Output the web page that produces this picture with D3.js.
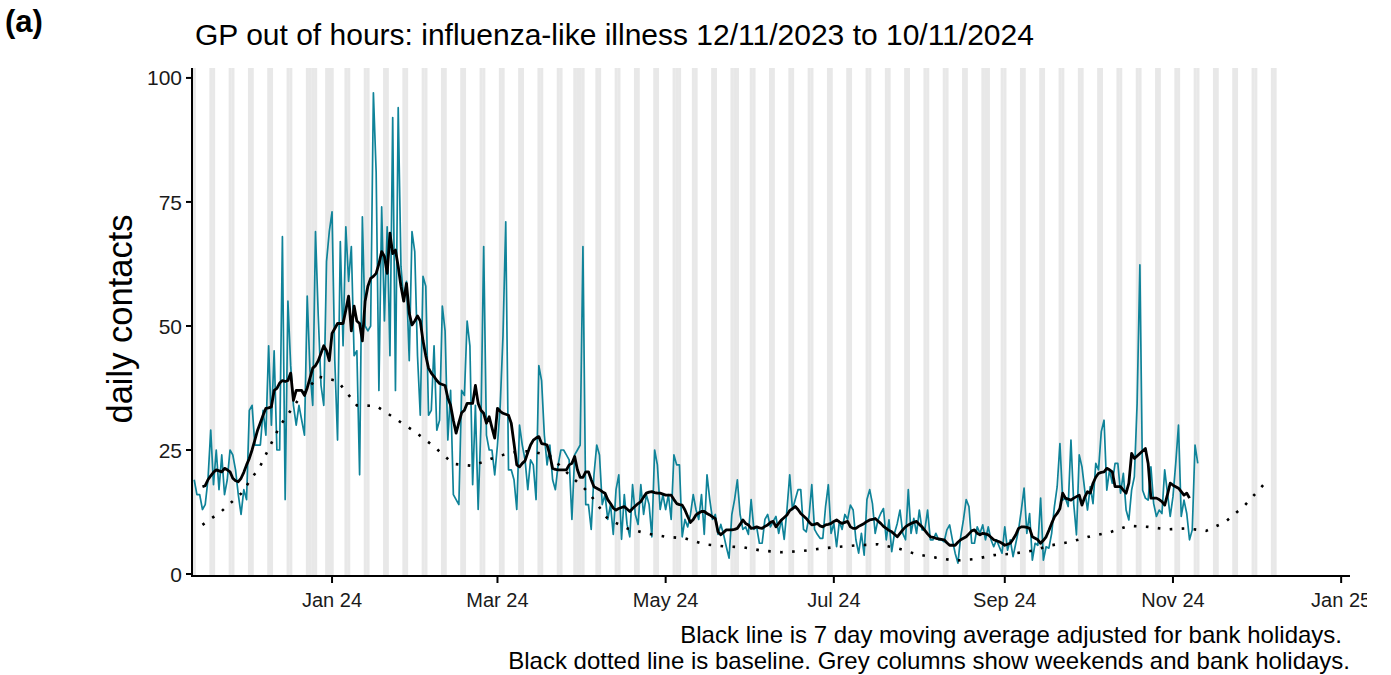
<!DOCTYPE html>
<html><head><meta charset="utf-8">
<script src="https://cdn.jsdelivr.net/npm/d3@7"></script>
<style>
body{margin:0;background:#fff}
svg text{font-family:"Liberation Sans",Arial,Helvetica,sans-serif}
</style>
</head><body>
<svg id="chart" width="1391" height="675"></svg>
<script>
// ---------------- DATA ----------------
const seriesStart = "2023-11-12"; // first daily value
const dailyContacts = [
19,16,16,13,14,19,29,18,25,17,24,16,19,25,24,21,16,12,17,15,
33,34,26,26,26,33,28,46,30,45,25,25,68,15,55,42,34,30,34,31,
28,56,41,34,69,52,38,34,63,69,73,43,27,67,46,70,59,66,44,45,
20,72,50,49,50,97,81,37,74,51,70,44,92,37,94,62,55,59,43,69,
65,44,32,60,58,32,33,46,29,31,54,49,27,37,16,15,14,37,36,51,
46,18,34,13,30,66,28,25,25,20,26,34,48,71,21,21,19,13,30,26,
23,17,23,22,15,42,39,28,22,26,19,17,22,25,25,24,23,11,24,25,
26,66,14,14,9,20,26,24,14,16,11,14,8,17,20,7,16,10,7.5,18,
12,10,18,12,16,14,7.5,25,22,13,16,13,16,11,24,22,22,7.5,11,9.5,
12,16,13,11,16,8,20,15,11,12,8,10,8,5.5,3.2,12,15,19,12,9,
9.5,8,15,9,9.5,6.2,6.2,11,12,9.5,10.6,11.6,8.2,11,7,13,20,13,15,17,
17,9,8.5,11.6,18,9,8,7.2,7.2,13.6,18,8.2,10.2,5.5,10.6,9,12,11,13.9,12.9,
6.9,4.2,8.2,3.8,15,17,14.2,8.2,10.9,12.2,13.2,6.9,10.9,4.5,8.2,10.2,12.9,8.2,6.9,17,
8.2,11.2,8.2,12.9,8.9,8.9,12.9,6.9,6.9,8.2,6.9,6.9,6.5,8.9,9.9,6.9,4.2,2.2,7.5,10.9,
15,13.6,6.2,6.2,9.5,8.2,9.9,6.9,9.5,6.9,5.5,6.9,5.5,4.2,9.5,4.8,6.9,3.5,6.2,8.9,
12.9,17.3,8.2,12.2,2.8,6.2,5.8,15.3,2.8,5.5,5.2,8.2,13.6,17.6,26.3,14.9,15.3,13.6,27,14.2,
7.9,24,21.6,16.9,12.9,17.6,14.2,22.3,21,28.7,31,16.9,21,18.3,22.3,22.3,16.3,20.3,12.9,10.9,
16.9,19.6,34.4,62.3,16.9,15.3,14.9,21.6,14.2,11.6,12.9,12.2,21,16.3,11.6,15.6,22.3,30,11.6,14.9,
12.2,6.9,8.9,26,22.3
];

const movingAverageStart = "2023-11-15"; // 7 day moving average (centred)
const movingAverage = [
17.6,17.8,19,19.8,20.5,21,20.8,20.6,21.3,21,20.6,19.3,18.8,18.6,19.3,20.5,22,23.3,25,27,
29,30.5,32,33.4,33.5,33.7,37,37.4,38.5,39,38.8,39,40.5,35,37,37,37,36,37.5,39.5,
41.5,42,43,44.5,46,45,43,48.5,49.5,50.5,50.5,50.5,53.2,56,49,54,51,50.5,47,55,
58,59.6,60,60.6,62.5,65,64,60.6,68.7,64.6,65.3,62,58,55,58.6,52.6,50.2,51,52,51,
47,44,41.5,40.5,39.8,39,38.4,38.2,38,35.5,34,31,28.4,30.5,32.5,33,34.4,34.4,34.4,38,
34.4,33,32.4,30.4,31.7,29.5,27.4,33.4,32.8,32.4,32.2,32,30.4,26.3,22,21.6,22.3,22.8,24.5,26,
27,27.4,27.7,26.3,26.2,26,24,21.3,21.1,21,21,21,21,22,22.3,23.7,21,19.5,19.5,20.6,
20.6,19,17.6,17.3,17,16.6,16.3,15,14.2,13.3,12.9,13.2,13.4,13.6,13.1,12.6,13.2,13.7,14.2,14.6,
15.5,16.3,16.5,16.6,16.4,16.3,16.3,16.1,15.9,15.9,15.9,15,14.2,14,13.9,12.9,11.6,10.4,11,11.9,
12.3,12.6,12.6,12.2,11.9,11.5,11.2,8.5,7.9,8.4,8.9,8.9,8.9,9,9.2,10,10.9,10.2,9.9,9.2,
9.3,9.5,9.3,9.2,9.6,9.9,10.4,10.6,9.5,10.2,10.9,11.4,11.9,12.8,13.2,13.6,13,12.2,11.7,11.2,
10.5,9.9,10,10.2,9.7,9.5,9.9,10,10.2,10.6,10.9,10.5,10.2,10.4,10.6,9.5,9.2,9.2,9.6,9.9,
10.2,10.6,10.9,11,11.2,10.7,10.2,9.6,9.2,8.8,8.5,8,7.5,8.2,8.9,9.5,9.9,10.2,10.4,10.6,
10,9.5,8.8,8.1,7.5,7.4,7.2,7.1,7,6.9,6.3,5.8,5.8,5.8,6.4,6.9,7.2,7.5,8.1,8.7,
8.9,8.2,7.9,8.2,8.1,7.9,7.4,6.9,6.7,6.5,6.2,5.8,6,6.2,7,7.9,9.2,9.5,9.5,9.4,
9.2,7.5,7.2,6.9,6.2,6.8,7.5,8.8,10.2,11.5,12.2,13.2,16.3,15.3,15.1,14.9,15.3,15.6,15.9,13.9,
15.5,16.6,16.3,18.3,19.5,20.3,20.5,20.6,21.3,21,20.6,17.6,17.6,17.6,16.9,16.3,18.3,24.3,23.3,23.8,
24.3,24.8,25.3,22.3,15.3,15.3,15.3,15,14.6,13.9,16,18.3,17.9,17.6,17.3,16.6,15.9,16.3,15.3
];

const baselineStart = "2023-11-15"; // weekly baseline points
const baseline = [
9.9,12.7,16.2,21.8,29.8,35.3,39.8,38.9,34.0,33.9,31.3,28.7,25.7,22.2,21.8,23.3,24.5,24.8,23.8,20.0,
16.5,11.1,9.2,8.2,7.5,7.2,6.0,5.6,5.4,4.7,4.4,4.6,5.1,5.5,5.8,6.0,5.2,4.0,3.3,2.7,
3.0,3.8,4.1,4.7,5.8,6.5,7.6,8.4,9.7,9.5,9.0,9.2,8.7,10.5,13.8,18.1
];

const bankHolidays = ["2023-12-25","2023-12-26","2024-01-01","2024-03-29","2024-04-01","2024-05-06","2024-05-27","2024-08-26"];
const columnsFrom = "2023-11-12", columnsTo = "2024-12-08";

const xTickDates = ["2024-01-01","2024-03-01","2024-05-01","2024-07-01","2024-09-01","2024-11-01","2025-01-01"];
const yTickValues = [0,25,50,75,100];

const titleText = "GP out of hours: influenza-like illness 12/11/2023 to 10/11/2024";
const panelLabel = "(a)";
const yLabel = "daily contacts";
const captionLines = ["Black line is 7 day moving average adjusted for bank holidays.",
                      "Black dotted line is baseline. Grey columns show weekends and bank holidays."];

// ---------------- CHART ----------------
(function(){
const parse = d3.utcParse("%Y-%m-%d");
const svg = d3.select("#chart");
const L = 192, R = 1350, T = 68, B = 576;

const x = d3.scaleUtc()
  .domain([new Date(Date.UTC(2023,10,11,5)), new Date(Date.UTC(2025,0,4,5))])
  .range([L, R]);
const y = d3.scaleLinear().domain([-0.4, 102]).range([B, T]);

const day0 = parse(seriesStart);
const daily = dailyContacts.map((v,i)=>({d:d3.utcDay.offset(day0,i), v}));
const ma0 = parse(movingAverageStart);
const maData = movingAverage.map((v,i)=>({d:d3.utcDay.offset(ma0,i), v}));
const b0 = parse(baselineStart);
const baseData = baseline.map((v,i)=>({d:d3.utcDay.offset(b0,7*i), v}));

const defs = svg.append("defs");
defs.append("clipPath").attr("id","plotclip")
  .append("rect").attr("x",L).attr("y",T).attr("width",R-L).attr("height",B-T);
defs.append("clipPath").attr("id","pageclip")
  .append("rect").attr("x",0).attr("y",0).attr("width",1367).attr("height",675);

// grey columns: weekends + bank holidays
const bh = new Set(bankHolidays);
const fmt = d3.utcFormat("%Y-%m-%d");
const greyDays = d3.utcDay.range(parse(columnsFrom), d3.utcDay.offset(parse(columnsTo),1))
  .filter(d => d.getUTCDay()===0 || d.getUTCDay()===6 || bh.has(fmt(d)));
const plot = svg.append("g").attr("clip-path","url(#plotclip)");
plot.append("g").selectAll("rect").data(greyDays).join("rect")
  .attr("x", d => x(d3.utcHour.offset(d,-12)))
  .attr("width", d => x(d3.utcHour.offset(d,12)) - x(d3.utcHour.offset(d,-12)) + 0.3)
  .attr("y", T).attr("height", B-T)
  .attr("fill","#e8e8e8");

const line = d3.line().x(p=>x(p.d)).y(p=>y(p.v));
plot.append("path").datum(daily).attr("d",line)
  .attr("fill","none").attr("stroke","#0f8399").attr("stroke-width",1.7).attr("stroke-linejoin","round");
plot.append("path").datum(baseData).attr("d",line)
  .attr("fill","none").attr("stroke","#000").attr("stroke-width",2.6)
  .attr("stroke-dasharray","2.6,9.4");
plot.append("path").datum(maData).attr("d",line)
  .attr("fill","none").attr("stroke","#000").attr("stroke-width",2.8).attr("stroke-linejoin","round");

// axes
const axisCol = "#000";
const g = svg.append("g").attr("clip-path","url(#pageclip)");
g.append("line").attr("x1",L).attr("x2",L).attr("y1",T).attr("y2",B+1)
  .attr("stroke",axisCol).attr("stroke-width",2);
g.append("line").attr("x1",L-1).attr("x2",R).attr("y1",B).attr("y2",B)
  .attr("stroke",axisCol).attr("stroke-width",2);

const yt = g.append("g");
yTickValues.forEach(v=>{
  yt.append("line").attr("x1",L-6).attr("x2",L).attr("y1",y(v)).attr("y2",y(v))
    .attr("stroke",axisCol).attr("stroke-width",2);
  yt.append("text").attr("x",L-10).attr("y",y(v)).attr("dy","0.36em")
    .attr("text-anchor","end").attr("font-size",21).attr("fill","#1a1a1a").text(v);
});
const xfmt = d3.utcFormat("%b %y");
const xt = g.append("g");
xTickDates.map(parse).forEach(d=>{
  xt.append("line").attr("x1",x(d)).attr("x2",x(d)).attr("y1",B).attr("y2",B+7)
    .attr("stroke",axisCol).attr("stroke-width",2);
  xt.append("text").attr("x",x(d)).attr("y",607).attr("text-anchor","middle")
    .attr("font-size",20).attr("fill","#1a1a1a").text(xfmt(d));
});

// texts
svg.append("text").attr("x",5).attr("y",32).attr("font-size",31).attr("font-weight","bold").text(panelLabel);
svg.append("text").attr("x",195).attr("y",45).attr("font-size",30).text(titleText);
svg.append("text").attr("transform","translate(132,319) rotate(-90)").attr("text-anchor","middle")
  .attr("font-size",34.5).text(yLabel);
svg.append("text").attr("x",1342).attr("y",643).attr("text-anchor","end").attr("font-size",24).text(captionLines[0]);
svg.append("text").attr("x",1350).attr("y",669).attr("text-anchor","end").attr("font-size",24).text(captionLines[1]);
})();
</script>
</body></html>
